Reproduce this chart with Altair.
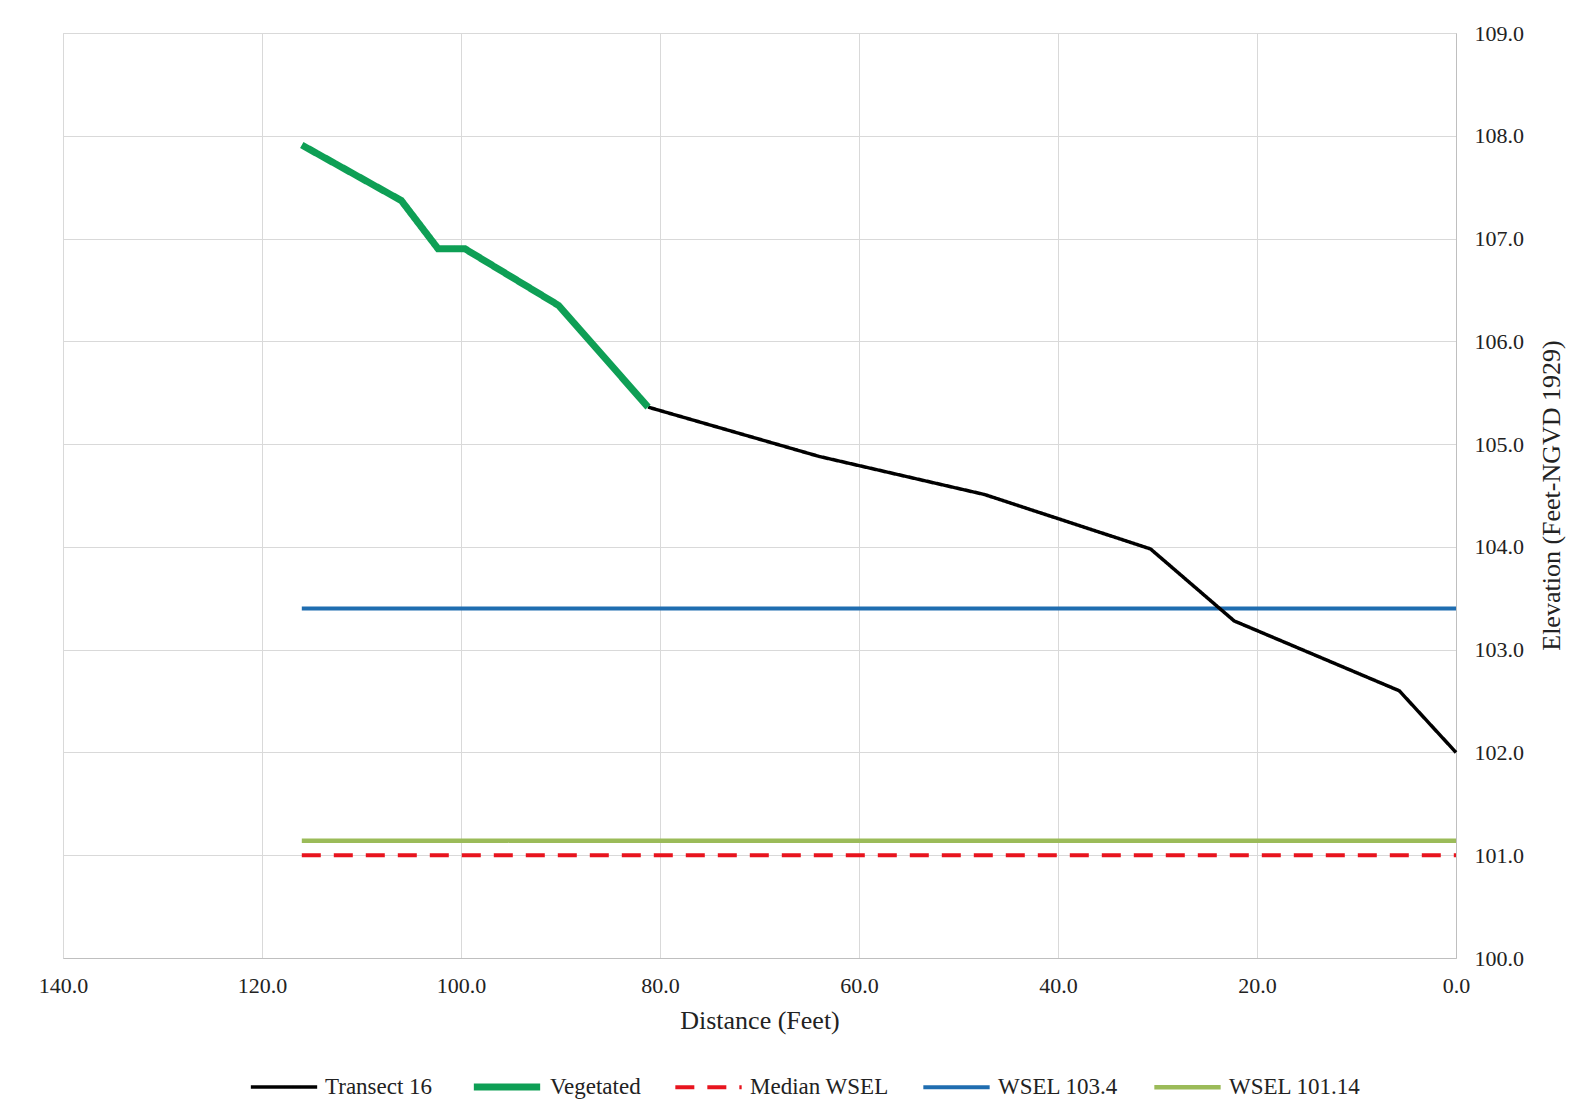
import altair as alt
import pandas as pd

# Transect 16 ground profile (below vegetated segment)
transect_x = [81.2, 64.0, 47.4, 30.7, 22.3, 5.7, 0.0]
transect_y = [105.36, 104.88, 104.51, 103.98, 103.28, 102.60, 102.00]

# Vegetated segment
veg_x = [116.0, 106.0, 102.3, 99.6, 90.2, 81.2]
veg_y = [107.91, 107.37, 106.90, 106.90, 106.35, 105.36]

# Horizontal water surface levels
level_x = [116.0, 0.0]
median_wsel = 101.0
wsel_high = 103.4
wsel_low = 101.14

series_names = ["Transect 16", "Vegetated", "Median WSEL", "WSEL 103.4", "WSEL 101.14"]
series_colors = ["#000000", "#0E9F55", "#E8141E", "#1F6DB0", "#9BBB59"]
series_widths = [3.5, 7, 4, 4, 4.5]
series_dash = [[1, 0], [1, 0], [19, 13], [1, 0], [1, 0]]

rows = []
for x, y in zip(transect_x, transect_y):
    rows.append({"x": x, "y": y, "series": "Transect 16"})
for x, y in zip(veg_x, veg_y):
    rows.append({"x": x, "y": y, "series": "Vegetated"})
for x in level_x:
    rows.append({"x": x, "y": median_wsel, "series": "Median WSEL"})
    rows.append({"x": x, "y": wsel_high, "series": "WSEL 103.4"})
    rows.append({"x": x, "y": wsel_low, "series": "WSEL 101.14"})
df = pd.DataFrame(rows)

FONT = "Liberation Serif"

legend = alt.Legend(
    title=None,
    orient="none",
    direction="horizontal",
    legendX=186,
    legendY=1017,
    symbolType="stroke",
    symbolSize=4400,
    labelFont=FONT,
    labelFontSize=23,
    labelColor="#222222",
    labelOffset=6,
    columnPadding=26,
    labelLimit=300,
)

base = alt.Chart(df).mark_line(strokeCap="butt").encode(
    x=alt.X(
        "x:Q",
        scale=alt.Scale(domain=[0, 140], reverse=True, nice=False),
        axis=alt.Axis(
            title="Distance (Feet)",
            values=[0, 20, 40, 60, 80, 100, 120, 140],
            format=".1f",
            labelFont=FONT,
            labelFontSize=22,
            labelColor="#222222",
            labelPadding=17,
            labelFlush=False,
            ticks=False,
            titleFont=FONT,
            titleFontSize=26,
            titleFontWeight="normal",
            titleColor="#222222",
            titlePadding=11,
            domainColor="#BFBFBF",
            gridColor="#D9D9D9",
        ),
    ),
    y=alt.Y(
        "y:Q",
        scale=alt.Scale(domain=[100, 109], nice=False, zero=False),
        axis=alt.Axis(
            orient="right",
            title="Elevation (Feet-NGVD 1929)",
            values=[100, 101, 102, 103, 104, 105, 106, 107, 108, 109],
            format=".1f",
            labelFont=FONT,
            labelFontSize=22,
            labelColor="#222222",
            labelPadding=18,
            labelFlush=False,
            ticks=False,
            titleFont=FONT,
            titleFontSize=26,
            titleFontWeight="normal",
            titleColor="#222222",
            titleAngle=270,
            titleX=95,
            titleY=462,
            titleAlign="center",
            titleBaseline="middle",
            domainColor="#BFBFBF",
            gridColor="#D9D9D9",
        ),
    ),
    color=alt.Color(
        "series:N",
        scale=alt.Scale(domain=series_names, range=series_colors),
        legend=legend,
        sort=series_names,
    ),
    strokeWidth=alt.StrokeWidth(
        "series:N",
        scale=alt.Scale(type="ordinal", domain=series_names, range=series_widths),
        legend=legend,
        sort=series_names,
    ),
    strokeDash=alt.StrokeDash(
        "series:N",
        scale=alt.Scale(domain=series_names, range=series_dash),
        legend=legend,
        sort=series_names,
    ),
    order=alt.Order("x:Q", sort="descending"),
)

draw_order = ["WSEL 101.14", "Median WSEL", "WSEL 103.4", "Transect 16", "Vegetated"]
layers = [base.transform_filter(alt.datum.series == s) for s in draw_order]

chart = alt.layer(*layers).properties(
    width=1393,
    height=925,
    padding={"left": 55, "top": 25, "right": 130, "bottom": 150},
    autosize=alt.AutoSizeParams(type="none"),
    background="white",
).configure_view(stroke="#D9D9D9")

chart.save("out.html", embed_options={"renderer": "svg", "actions": False})
